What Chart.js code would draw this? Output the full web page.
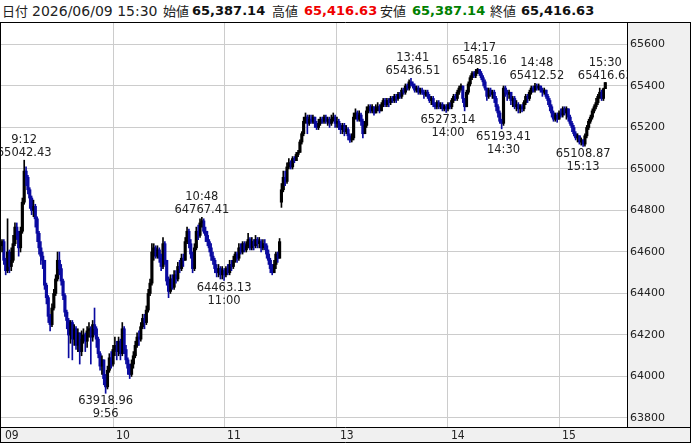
<!DOCTYPE html>
<html>
<head>
<meta charset="utf-8">
<script src="https://cdn.jsdelivr.net/npm/chart.js@4.4.1/dist/chart.umd.min.js"></script>
<style>
  html, body { margin: 0; padding: 0; background: #fff; }
  #wrap { position: relative; width: 693px; height: 443px; overflow: hidden; }
  #head { position: absolute; left: 0; top: 0; width: 693px; height: 22px; font-family: "DejaVu Sans", sans-serif; font-size: 14px; line-height: 22px; color: #222; }
  #head span { position: absolute; top: 0; white-space: nowrap; }
  #head .k { font-family: "Noto Sans CJK JP", sans-serif; font-size: 13px; }
  #head .v { font-weight: bold; font-size: 13px; color: #111; }
  #chart { position: absolute; left: 0; top: 22px; }
</style>
</head>
<body>
<div id="wrap">
  <div id="head">
    <span class="k" style="left:2px">日付</span>
    <span style="left:32px">2026/06/09 15:30</span>
    <span class="k" style="left:163px">始値</span>
    <span class="v" style="left:192px">65,387.14</span>
    <span class="k" style="left:272px">高値</span>
    <span class="v" style="left:304px;color:#f00000">65,416.63</span>
    <span class="k" style="left:380px">安値</span>
    <span class="v" style="left:412px;color:#008000">65,387.14</span>
    <span class="k" style="left:490px">終値</span>
    <span class="v" style="left:521px">65,416.63</span>
  </div>
  <canvas id="chart" width="693" height="421"></canvas>
</div>
<script>
// trading sessions, one candle per minute (closing auction at 15:30)
const sessions = [['09:00', '11:30'], ['12:30', '15:24'], ['15:30', '15:30']]

const toMin = s => +s.slice(0, 2) * 60 + +s.slice(3)
const toHHMM = m =>
  `${Math.floor(m / 60).toString().padStart(2, '0')}:${(m % 60).toString().padStart(2, '0')}`

const times = []
sessions.forEach(([a, b]) => {
  for (let m = toMin(a); m <= toMin(b); m++) times.push(toHHMM(m))
})

// [open, high, low, close] per minute
const candles = [
  [64630,64660,64600,64650],[64650,64660,64540,64560],[64560,64570,64490,64510],[64510,64760,64500,64600],
  [64600,64610,64500,64530],[64530,64620,64510,64560],[64560,64680,64550,64640],[64640,64740,64630,64720],
  [64720,64740,64660,64680],[64680,64700,64580,64620],[64620,64720,64600,64700],[64700,64860,64690,64840],
  [64840,65042.43,64830,64990],[64990,65010,64920,64960],[64960,64970,64880,64900],[64900,64910,64810,64860],
  [64860,64870,64780,64800],[64800,64850,64770,64820],[64820,64830,64720,64760],[64760,64770,64650,64690],
  [64690,64700,64590,64620],[64620,64650,64540,64580],[64580,64600,64520,64560],[64560,64560,64420,64440],
  [64440,64450,64350,64380],[64380,64390,64260,64290],[64290,64300,64220,64250],[64250,64350,64240,64330],
  [64330,64420,64320,64400],[64400,64490,64390,64470],[64470,64600,64460,64560],[64560,64600,64490,64520],
  [64520,64540,64440,64460],[64460,64470,64370,64390],[64390,64400,64290,64310],[64310,64320,64230,64270],
  [64270,64280,64090,64200],[64200,64270,64160,64260],[64260,64270,64080,64180],[64180,64250,64150,64230],
  [64230,64240,64130,64150],[64150,64230,64120,64210],[64210,64210,64060,64120],[64120,64220,64100,64180],
  [64180,64230,64160,64200],[64200,64210,64120,64170],[64170,64240,64140,64220],[64220,64260,64190,64230],
  [64230,64240,64060,64190],[64190,64270,64170,64250],[64250,64330,64200,64230],[64230,64240,64140,64180],
  [64180,64190,64090,64110],[64110,64120,64030,64050],[64050,64100,64010,64080],[64080,64080,63960,63990],
  [63990,64010,63918.96,63950],[63950,64050,63940,64030],[64030,64110,64020,64090],[64090,64120,64040,64060],
  [64060,64150,64050,64130],[64130,64190,64100,64150],[64150,64170,64080,64120],[64120,64190,64100,64170],
  [64170,64180,64080,64110],[64110,64260,64100,64230],[64230,64240,64110,64130],[64130,64150,64060,64080],
  [64080,64090,64010,64040],[64040,64060,63990,64010],[64010,64080,64000,64060],[64060,64120,64040,64100],
  [64100,64170,64090,64150],[64150,64210,64140,64190],[64190,64220,64150,64180],[64180,64260,64170,64240],
  [64240,64300,64230,64280],[64280,64300,64230,64260],[64260,64340,64250,64320],[64320,64420,64310,64400],
  [64400,64470,64390,64450],[64450,64640,64440,64600],[64600,64640,64560,64620],[64620,64630,64570,64580],
  [64580,64630,64570,64610],[64610,64620,64550,64570],[64570,64590,64510,64530],[64530,64670,64520,64640],
  [64640,64650,64540,64560],[64560,64560,64440,64460],[64460,64480,64380,64410],[64410,64490,64400,64470],
  [64470,64490,64420,64430],[64430,64510,64420,64490],[64490,64510,64450,64470],[64470,64550,64460,64530],
  [64530,64560,64500,64520],[64520,64590,64510,64570],[64570,64590,64530,64560],[64560,64670,64560,64650],
  [64650,64720,64640,64700],[64700,64710,64620,64640],[64640,64660,64570,64590],[64590,64600,64500,64520],
  [64520,64640,64510,64620],[64620,64720,64610,64700],[64700,64730,64660,64680],[64680,64760,64670,64740],
  [64740,64767.41,64720,64750],[64750,64760,64690,64700],[64700,64720,64650,64680],[64680,64700,64630,64650],
  [64650,64660,64600,64620],[64620,64640,64560,64580],[64580,64600,64540,64560],[64560,64570,64500,64520],
  [64520,64540,64480,64500],[64500,64540,64480,64520],[64520,64530,64470,64490],[64490,64530,64470,64510],
  [64510,64520,64463.13,64490],[64490,64530,64480,64520],[64520,64540,64490,64500],[64500,64560,64490,64540],
  [64540,64560,64510,64530],[64530,64580,64520,64560],[64560,64600,64550,64590],[64590,64600,64550,64570],
  [64570,64640,64560,64620],[64620,64640,64590,64600],[64600,64650,64590,64640],[64640,64650,64600,64610],
  [64610,64650,64600,64630],[64630,64690,64620,64660],[64660,64670,64610,64620],[64620,64670,64610,64650],
  [64650,64660,64610,64630],[64630,64680,64620,64660],[64660,64670,64620,64640],[64640,64670,64620,64650],
  [64650,64660,64600,64620],[64620,64660,64610,64640],[64640,64660,64610,64630],[64630,64640,64570,64590],
  [64590,64610,64540,64560],[64560,64570,64500,64520],[64520,64540,64490,64500],[64500,64560,64500,64540],
  [64540,64600,64520,64590],[64590,64600,64550,64570],[64570,64665,64570,64650],
  // afternoon
  [64840,64930,64815,64900],[64900,64990,64890,64960],[64960,64990,64920,64940],[64940,65030,64930,65010],
  [65010,65050,65000,65030],[65030,65040,65000,65010],[65010,65060,65000,65050],[65050,65060,65030,65040],
  [65040,65080,65040,65070],[65070,65090,65060,65080],[65080,65140,65080,65130],[65130,65180,65120,65170],
  [65170,65250,65160,65230],[65230,65270,65220,65250],[65250,65260,65170,65220],[65220,65260,65210,65240],
  [65240,65260,65220,65230],[65230,65260,65220,65250],[65250,65250,65200,65220],[65220,65230,65190,65200],
  [65200,65240,65190,65220],[65220,65250,65210,65240],[65240,65250,65220,65230],[65230,65260,65220,65250],
  [65250,65260,65220,65230],[65230,65250,65210,65240],[65240,65250,65200,65220],[65220,65260,65210,65240],
  [65240,65270,65230,65250],[65250,65260,65200,65220],[65220,65250,65200,65230],[65230,65240,65190,65200],
  [65200,65220,65170,65190],[65190,65220,65170,65210],[65210,65220,65160,65180],[65180,65210,65170,65190],
  [65190,65200,65140,65160],[65160,65170,65128,65140],[65140,65170,65130,65150],[65150,65270,65140,65250],
  [65250,65290,65240,65270],[65270,65280,65230,65240],[65240,65280,65230,65260],[65260,65270,65210,65230],
  [65230,65240,65150,65170],[65170,65230,65170,65210],[65210,65300,65200,65280],[65280,65310,65270,65300],
  [65300,65310,65270,65280],[65280,65310,65270,65300],[65300,65300,65260,65270],[65270,65310,65270,65290],
  [65290,65320,65280,65300],[65300,65310,65270,65280],[65280,65320,65280,65310],[65310,65340,65300,65330],
  [65330,65340,65300,65310],[65310,65340,65300,65330],[65330,65340,65300,65320],[65320,65350,65310,65340],
  [65340,65350,65320,65330],[65330,65360,65320,65350],[65350,65360,65320,65340],[65340,65370,65330,65360],
  [65360,65370,65340,65350],[65350,65390,65340,65380],[65380,65390,65360,65370],[65370,65410,65360,65400],
  [65400,65410,65380,65390],[65390,65430,65380,65420],[65420,65436.51,65400,65410],[65410,65420,65390,65400],
  [65400,65410,65370,65380],[65380,65400,65370,65390],[65390,65400,65360,65370],[65370,65390,65360,65380],
  [65380,65390,65360,65370],[65370,65380,65340,65360],[65360,65380,65350,65370],[65370,65380,65340,65350],
  [65350,65360,65320,65330],[65330,65350,65310,65340],[65340,65350,65300,65310],[65310,65320,65290,65300],
  [65300,65330,65290,65320],[65320,65330,65290,65300],[65300,65320,65290,65310],[65310,65320,65280,65290],
  [65290,65310,65280,65300],[65300,65310,65273.14,65290],[65290,65320,65280,65310],[65310,65320,65290,65300],
  [65300,65340,65290,65330],[65330,65360,65320,65350],[65350,65360,65330,65340],[65340,65380,65330,65370],
  [65370,65400,65360,65390],[65390,65410,65380,65400],[65400,65400,65320,65340],[65340,65340,65280,65300],
  [65300,65380,65300,65370],[65370,65420,65360,65410],[65410,65450,65400,65440],[65440,65470,65430,65460],
  [65460,65470,65440,65450],[65450,65480,65440,65470],[65470,65485.16,65460,65480],[65480,65480,65450,65460],
  [65460,65470,65430,65440],[65440,65450,65400,65420],[65420,65430,65380,65390],[65390,65390,65330,65350],
  [65350,65390,65340,65380],[65380,65390,65350,65360],[65360,65380,65340,65370],[65370,65380,65320,65340],
  [65340,65350,65280,65300],[65300,65310,65250,65270],[65270,65280,65220,65230],[65230,65240,65193.41,65220],
  [65220,65400,65210,65390],[65390,65400,65350,65370],[65370,65380,65330,65360],[65360,65380,65340,65370],
  [65370,65370,65310,65330],[65330,65350,65300,65340],[65340,65350,65290,65300],[65300,65330,65280,65310],
  [65310,65320,65270,65290],[65290,65310,65270,65300],[65300,65310,65275,65290],[65290,65330,65280,65320],
  [65320,65360,65310,65350],[65350,65360,65320,65340],[65340,65380,65330,65370],[65370,65400,65360,65390],
  [65390,65400,65370,65380],[65380,65412.52,65370,65400],[65400,65410,65380,65390],[65390,65410,65380,65400],
  [65400,65400,65370,65380],[65380,65390,65350,65370],[65370,65390,65360,65380],[65380,65380,65340,65350],
  [65350,65360,65310,65330],[65330,65340,65280,65300],[65300,65310,65250,65270],[65270,65280,65230,65240],
  [65240,65270,65230,65260],[65260,65270,65225,65240],[65240,65280,65240,65270],[65270,65290,65250,65260],
  [65260,65300,65250,65290],[65290,65300,65260,65270],[65270,65300,65240,65290],[65290,65290,65230,65250],
  [65250,65260,65210,65220],[65220,65230,65180,65200],[65200,65210,65160,65170],[65170,65180,65140,65150],
  [65150,65170,65130,65160],[65160,65160,65120,65130],[65130,65150,65115,65140],[65140,65140,65108.87,65120],
  [65120,65170,65110,65160],[65160,65210,65150,65200],[65200,65240,65190,65230],[65230,65260,65220,65250],
  [65250,65290,65240,65280],[65280,65310,65270,65300],[65300,65340,65290,65320],[65320,65360,65310,65350],
  [65350,65390,65340,65370],[65370,65380,65330,65340],[65340,65390,65330,65387.14],
  [65387.14,65416.63,65387.14,65416.63],
]

// x axis hour ticks
const hourTimes = ['09:00', '10:00', '11:00', '13:00', '14:00', '15:00']
const hourLabels = ['09', '10', '11', '13', '14', '15']

// y axis ticks
const priceTicks = [63800, 64000, 64200, 64400, 64600, 64800, 65000, 65200, 65400, 65600]

// labelled highs and lows
const markTimes = ['9:12', '9:56', '10:48', '11:00', '13:41', '14:00', '14:17', '14:30', '14:48', '15:13', '15:30']
const markValues = [65042.43, 63918.96, 64767.41, 64463.13, 65436.51, 65273.14, 65485.16, 65193.41, 65412.52, 65108.87, 65416.63]
const markSides = ['high', 'low', 'high', 'low', 'high', 'low', 'high', 'low', 'high', 'low', 'high']

const UP = '#000000'
const DOWN = '#0a0aa0'
const colors = candles.map(c => (c[3] >= c[0] ? UP : DOWN))

const frame = {
  id: 'frame',
  beforeDraw(chart) {
    const { ctx, chartArea: a, width: W, height: H } = chart
    ctx.save()
    ctx.fillStyle = '#f0f0f0'
    ctx.fillRect(a.right, 0, W - 2 - a.right, H)
    ctx.fillRect(0, a.bottom, W - 2, H - a.bottom)
    ctx.restore()
  },
  afterDraw(chart) {
    const { ctx, chartArea: a, width: W, height: H } = chart
    ctx.save()
    ctx.strokeStyle = '#000'
    ctx.lineWidth = 1
    ctx.beginPath()
    ctx.moveTo(0, 0.5); ctx.lineTo(W - 2, 0.5)
    ctx.moveTo(0.5, 0); ctx.lineTo(0.5, H)
    ctx.moveTo(a.right + 0.5, 0); ctx.lineTo(a.right + 0.5, a.bottom)
    ctx.moveTo(0, a.bottom + 0.5); ctx.lineTo(W - 2, a.bottom + 0.5)
    ctx.moveTo(0, H - 0.5); ctx.lineTo(W - 2, H - 0.5)
    ctx.moveTo(W - 2.5, 0); ctx.lineTo(W - 2.5, H)
    ctx.stroke()
    ctx.restore()
  },
}

const marks = {
  id: 'marks',
  afterDatasetsDraw(chart) {
    const { ctx, chartArea: a, scales: { x, y } } = chart
    ctx.save()
    ctx.beginPath()
    ctx.rect(a.left, a.top, a.right - a.left, a.bottom - a.top)
    ctx.clip()
    ctx.font = '11.5px "DejaVu Sans"'
    ctx.fillStyle = '#222'
    ctx.textAlign = 'center'
    markTimes.forEach((t, i) => {
      const px = x.getPixelForValue(times.indexOf(t.padStart(5, '0')))
      const py = y.getPixelForValue(markValues[i])
      const val = markValues[i].toFixed(2)
      if (markSides[i] === 'high') {
        ctx.textBaseline = 'alphabetic'
        ctx.fillText(val, px, py - 4)
        ctx.fillText(t, px, py - 17)
      } else {
        ctx.textBaseline = 'top'
        ctx.fillText(val, px, py + 2)
        ctx.fillText(t, px, py + 15)
      }
    })
    ctx.restore()
  },
}

new Chart(document.getElementById('chart'), {
  type: 'bar',
  data: {
    datasets: [
      {
        data: candles.map((c, i) => ({ x: i, y: [c[2], c[1]] })),
        backgroundColor: colors,
        barThickness: 1,
        minBarLength: 1,
      },
      {
        data: candles.map((c, i) => ({ x: i, y: [c[0], c[3]] })),
        backgroundColor: colors,
        barThickness: 2.5,
        minBarLength: 1,
      },
    ],
  },
  options: {
    responsive: false,
    animation: false,
    events: [],
    layout: { padding: { left: 1, top: 1, right: 2, bottom: 1 } },
    datasets: { bar: { grouped: false, borderWidth: 0 } },
    plugins: { legend: { display: false }, tooltip: { enabled: false } },
    scales: {
      x: {
        type: 'linear',
        offset: false,
        min: -0.54,
        max: 337.73,
        border: { display: false },
        grid: {
          offset: false,
          drawTicks: false,
          color: ctx => (ctx.index === 0 ? 'rgba(0,0,0,0)' : '#cccccc'),
        },
        afterBuildTicks: s => {
          s.ticks = hourTimes.map(t => ({ value: times.indexOf(t) }))
        },
        afterFit: s => {
          s.height = 15
          s.paddingLeft = 0
          s.paddingRight = 0
        },
        ticks: {
          autoSkip: false,
          maxRotation: 0,
          align: 'start',
          labelOffset: 3,
          padding: 2,
          color: '#222',
          font: { family: '"Liberation Sans Narrow", "DejaVu Sans Condensed", sans-serif', size: 12 },
          callback: v => hourLabels[hourTimes.indexOf(times[v])],
        },
      },
      y: {
        position: 'right',
        beginAtZero: false,
        min: 63756.6,
        max: 65703.6,
        border: { display: false },
        grid: { drawTicks: false, color: '#cccccc' },
        afterBuildTicks: s => {
          s.ticks = priceTicks.map(v => ({ value: v }))
        },
        afterFit: s => {
          s.width = 64
          s.paddingTop = 0
          s.paddingBottom = 0
        },
        ticks: {
          padding: 3,
          color: '#222',
          font: { family: '"DejaVu Sans", sans-serif', size: 11 },
          callback: v => String(v),
        },
      },
    },
  },
  plugins: [frame, marks],
})
</script>
</body>
</html>
